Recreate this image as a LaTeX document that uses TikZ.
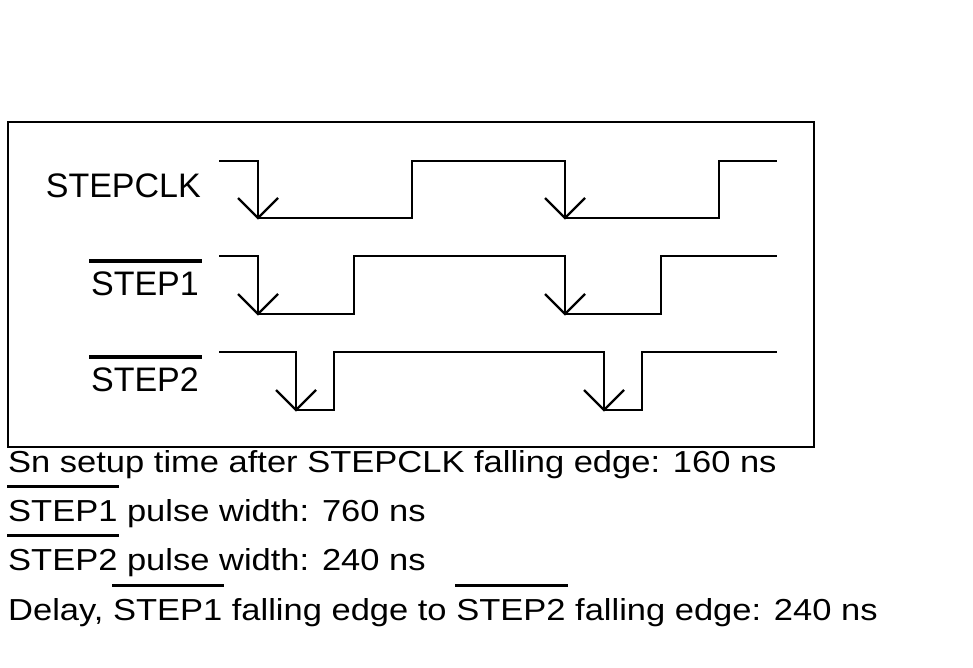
\documentclass[tikz,border=0pt]{standalone}
\usepackage{fontspec}
\setmainfont{Liberation Sans}
\newcommand\boxovl[1]{\setbox0\hbox{#1}\rlap{\kern-2pt\raisebox{32.5pt}{\rule{\dimexpr\wd0+5pt\relax}{3.5pt}}}\box0\relax}
\newcommand\lowovl[1]{\setbox0\hbox{#1}\rlap{\kern-1pt\raisebox{37pt}{\rule{\dimexpr\wd0+3pt\relax}{3.8pt}}}\box0\relax}
\begin{document}
\begin{tikzpicture}[x=1pt,y=-1pt,
  wave/.style={line width=2.2pt,line join=miter},
  frame/.style={line width=2.2pt},
  vtip/.style={line width=2.2pt},
  siglabel/.style={anchor=base east,inner sep=0pt,font=\fontsize{34}{40}\selectfont},
  note/.style={anchor=base west,inner sep=0pt,font=\fontsize{34.5}{40}\selectfont}]
\useasboundingbox (0,0) rectangle (973,668);
\draw[frame] (8,122) rectangle (814,447);
% labels
\node[siglabel] (lclk) at (201,198) {STEPCLK};
\node[siglabel] (ls1) at (199,295) {\boxovl{STEP1}};
\node[siglabel] (ls2) at (199,391) {\boxovl{STEP2}};
% waveforms
\draw[wave] (219,161) -- (258,161) -- (258,218) -- (412,218) -- (412,161) -- (565,161) -- (565,218) -- (719,218) -- (719,161) -- (777,161);
\draw[wave] (219,256) -- (258,256) -- (258,314) -- (354,314) -- (354,256) -- (565,256) -- (565,314) -- (661,314) -- (661,256) -- (777,256);
\draw[wave] (219,352) -- (296,352) -- (296,410) -- (334,410) -- (334,352) -- (604,352) -- (604,410) -- (642,410) -- (642,352) -- (777,352);
% falling-edge arrow tips
\foreach \x/\y in {258/218,565/218,258/314,565/314,296/410,604/410}
  \draw[vtip] (\x-20,\y-20) -- (\x,\y) -- (\x+20,\y-20);
% notes
\node[note] (n1) at (8,472) {\scalebox{1}[0.88]{Sn setup time after STEPCLK falling edge: 160 ns}};
\node[note] (n2) at (8,521) {\scalebox{1}[0.88]{\lowovl{STEP1} pulse width: 760 ns}};
\node[note] (n3) at (8,570) {\scalebox{1}[0.88]{\lowovl{STEP2} pulse width: 240 ns}};
\node[note] (n4) at (8,620) {\scalebox{1}[0.88]{Delay, \lowovl{STEP1} falling edge to \lowovl{STEP2} falling edge: 240 ns}};
\end{tikzpicture}
\end{document}
